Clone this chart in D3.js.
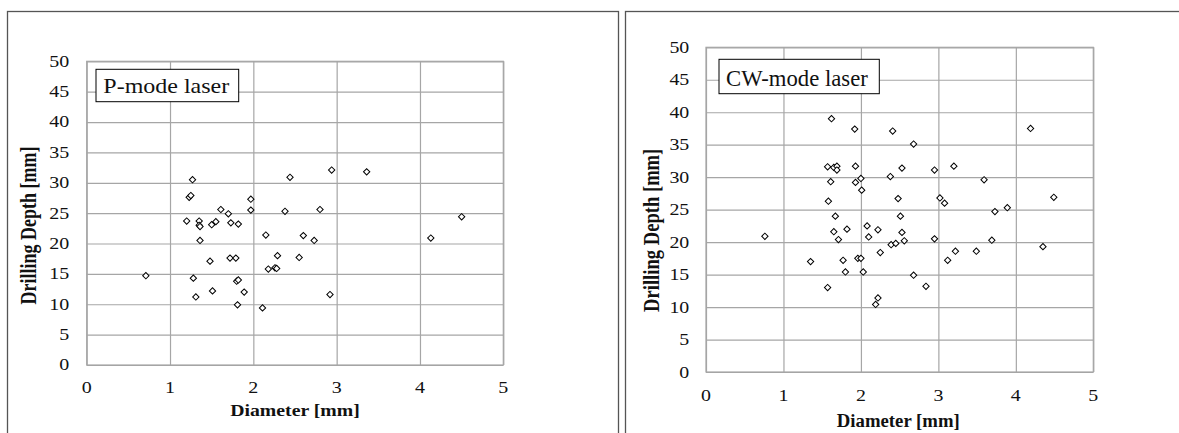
<!DOCTYPE html>
<html>
<head>
<meta charset="utf-8">
<script src="https://cdn.jsdelivr.net/npm/d3@7"></script>
<style>
  body { margin: 0; background: #fff; }
  text { font-family: "Liberation Serif", "Times New Roman", serif; fill: #111; }
</style>
</head>
<body>
<svg id="chart" width="1179" height="433"></svg>
<script>
// values
const xTicks = [0, 1, 2, 3, 4, 5];
const yTicks = [0, 5, 10, 15, 20, 25, 30, 35, 40, 45, 50];
const xTitle = 'Diameter [mm]';
const yTitle = 'Drilling Depth [mm]';

const pLabel = 'P-mode laser';
const pDiameter = [0.71, 1.20, 1.23, 1.25, 1.27, 1.28, 1.31, 1.35, 1.35, 1.36, 1.36, 1.48, 1.50, 1.51, 1.55,
  1.61, 1.70, 1.72, 1.73, 1.79, 1.80, 1.81, 1.82, 1.82, 1.89, 1.97, 1.97, 2.11, 2.15, 2.18, 2.26, 2.28,
  2.29, 2.38, 2.44, 2.55, 2.60, 2.73, 2.80, 2.92, 2.94, 3.36, 4.13, 4.50];
const pDepth = [14.7, 23.7, 27.6, 27.9, 30.5, 14.3, 11.2, 23.7, 23.0, 22.8, 20.5, 17.1, 23.1, 12.2, 23.6,
  25.6, 24.9, 17.6, 23.4, 17.6, 13.8, 9.9, 14.0, 23.2, 12.0, 27.3, 25.5, 9.4, 21.4, 15.8, 16.0, 15.9,
  18.0, 25.3, 30.9, 17.7, 21.3, 20.5, 25.6, 11.6, 32.1, 31.8, 20.9, 24.4];

const cwLabel = 'CW-mode laser';
const cwDiameter = [0.76, 1.35, 1.57, 1.57, 1.58, 1.61, 1.62, 1.65, 1.65, 1.67, 1.69, 1.69, 1.71, 1.77,
  1.80, 1.82, 1.92, 1.93, 1.93, 1.96, 2.00, 2.00, 2.01, 2.03, 2.08, 2.10, 2.19, 2.22, 2.22, 2.25, 2.38,
  2.39, 2.41, 2.45, 2.48, 2.51, 2.53, 2.53, 2.56, 2.68, 2.68, 2.84, 2.95, 2.95, 3.02, 3.08, 3.12, 3.20,
  3.22, 3.49, 3.59, 3.69, 3.73, 3.89, 4.19, 4.35, 4.49];
const cwDepth = [20.9, 17.0, 31.6, 13.0, 26.3, 29.3, 39.0, 31.5, 21.6, 24.0, 31.7, 31.1, 20.4, 17.2,
  15.4, 22.0, 37.4, 31.7, 29.2, 17.5, 29.8, 17.5, 28.0, 15.4, 22.5, 20.8, 10.4, 11.4, 21.9, 18.4, 30.1,
  19.6, 37.1, 19.8, 26.7, 24.0, 31.4, 21.5, 20.2, 35.1, 14.9, 13.2, 31.1, 20.5, 26.8, 26.0, 17.2, 31.7,
  18.6, 18.6, 29.6, 20.3, 24.7, 25.3, 37.5, 19.3, 26.9];

const svg = d3.select('#chart');

// each panel: frame, plot box and text placement (the source image is stretched sideways)
const panels = [
  {
    label: pLabel, xs: pDiameter, ys: pDepth,
    frame: [7.5, 11.5, 611, 440],
    plot: { left: 86.7, right: 503.3, top: 61.3, bottom: 365 },
    tick: { size: 16, sx: 1.25, right: 69.3, base: 392.7 },
    xT: { size: 17.5, sx: 1.13, x: 295, base: 416 },
    yT: { size: 18, sx: 1.23, x: 35.6, y: 225.5 },
    box: { x: 96, y: 69.3, w: 142.7, h: 32.4, tx: 103.3, tb: 93.3, size: 20, sx: 1.2 }
  },
  {
    label: cwLabel, xs: cwDiameter, ys: cwDepth,
    frame: [625.5, 11.5, 600, 440],
    plot: { left: 706, right: 1093.3, top: 47.3, bottom: 372 },
    tick: { size: 16.3, sx: 1.22, right: 689.3, base: 401 },
    xT: { size: 18.2, sx: 1.03, x: 898.3, base: 426.7 },
    yT: { size: 18.6, sx: 1.25, x: 659, y: 230.3 },
    box: { x: 719, y: 59.3, w: 160.3, h: 34.4, tx: 726, tb: 86, size: 22.7, sx: 1.0 }
  }
];

const diamond = d3.symbol().type(d3.symbolSquare).size(20);

panels.forEach(function(p) {
  const g = svg.append('g');

  g.append('rect')
    .attr('x', p.frame[0]).attr('y', p.frame[1])
    .attr('width', p.frame[2]).attr('height', p.frame[3])
    .attr('fill', 'none').attr('stroke', '#555').attr('stroke-width', 1.3);

  const x = d3.scaleLinear().domain([0, 5]).range([p.plot.left, p.plot.right]);
  const y = d3.scaleLinear().domain([0, 50]).range([p.plot.bottom, p.plot.top]);
  const w = p.plot.right - p.plot.left, h = p.plot.bottom - p.plot.top;

  // grid lines through the axes
  g.append('g')
    .attr('transform', 'translate(0,' + p.plot.bottom + ')')
    .call(d3.axisBottom(x).tickValues(xTicks).tickSize(-h).tickFormat(''))
    .call(a => a.select('.domain').remove())
    .selectAll('line').attr('stroke', '#a6a6a6').attr('stroke-width', 1.2);

  g.append('g')
    .attr('transform', 'translate(' + p.plot.left + ',0)')
    .call(d3.axisLeft(y).tickValues(yTicks).tickSize(-w).tickFormat(''))
    .call(a => a.select('.domain').remove())
    .selectAll('line').attr('stroke', '#a6a6a6').attr('stroke-width', 1.2);

  g.append('rect')
    .attr('x', p.plot.left).attr('y', p.plot.top)
    .attr('width', w).attr('height', h)
    .attr('fill', 'none').attr('stroke', '#a6a6a6').attr('stroke-width', 1.2);

  // tick labels
  g.selectAll('.ytl').data(yTicks).enter().append('text')
    .attr('text-anchor', 'end')
    .attr('font-size', p.tick.size)
    .attr('dy', '0.34em')
    .attr('transform', d => 'translate(' + p.tick.right + ',' + y(d) + ') scale(' + p.tick.sx + ',1)')
    .text(d => d);

  g.selectAll('.xtl').data(xTicks).enter().append('text')
    .attr('text-anchor', 'middle')
    .attr('font-size', p.tick.size)
    .attr('transform', d => 'translate(' + x(d) + ',' + p.tick.base + ') scale(' + p.tick.sx + ',1)')
    .text(d => d);

  // axis titles
  g.append('text')
    .attr('text-anchor', 'middle')
    .attr('font-weight', 'bold')
    .attr('font-size', p.xT.size)
    .attr('transform', 'translate(' + p.xT.x + ',' + p.xT.base + ') scale(' + p.xT.sx + ',1)')
    .text(xTitle);

  g.append('text')
    .attr('text-anchor', 'middle')
    .attr('font-weight', 'bold')
    .attr('font-size', p.yT.size)
    .attr('transform', 'translate(' + p.yT.x + ',' + p.yT.y + ') scale(' + p.yT.sx + ',1) rotate(-90)')
    .text(yTitle);

  // points
  g.selectAll('.pt').data(p.xs).enter().append('path')
    .attr('d', diamond)
    .attr('transform', (d, i) => 'translate(' + x(d) + ',' + y(p.ys[i]) + ') rotate(45)')
    .attr('fill', '#fff').attr('stroke', '#000').attr('stroke-width', 1);

  // label box
  g.append('rect')
    .attr('x', p.box.x).attr('y', p.box.y)
    .attr('width', p.box.w).attr('height', p.box.h)
    .attr('fill', '#fff').attr('stroke', '#000').attr('stroke-width', 1);

  g.append('text')
    .attr('font-size', p.box.size)
    .attr('transform', 'translate(' + p.box.tx + ',' + p.box.tb + ') scale(' + p.box.sx + ',1)')
    .text(p.label);
});
</script>
</body>
</html>
